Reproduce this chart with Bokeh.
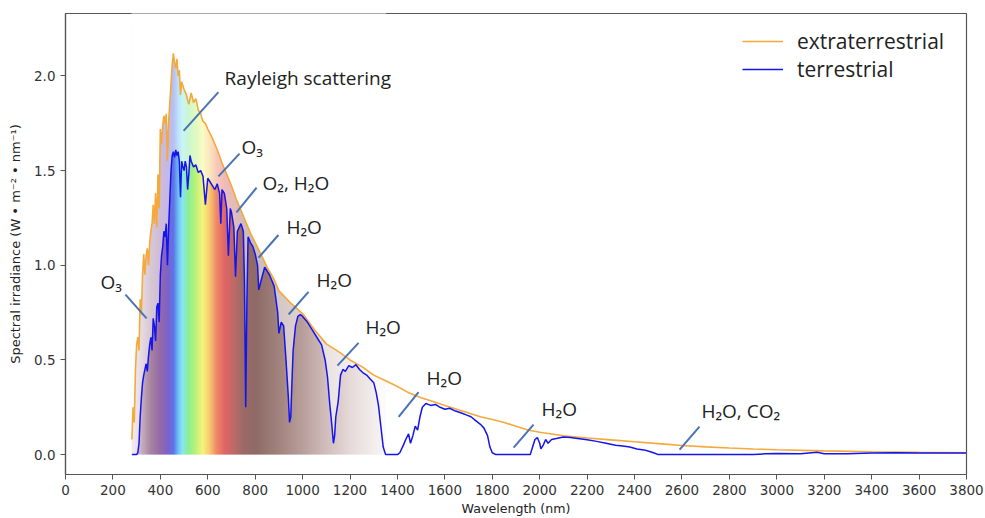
import numpy as np
from bokeh.plotting import figure
from bokeh.models import FixedTicker, PrintfTickFormatter, Range1d, ColumnDataSource
from bokeh.core.properties import value
from bokeh.embed import file_html
from bokeh.resources import INLINE

# ---------------- data ----------------
ext_wl = [280, 285, 290, 295, 300, 305, 310, 315, 320, 325, 330, 335, 340, 345, 350, 355,
          360, 365, 370, 375, 380, 385, 390, 395, 400, 405, 410, 415, 420, 425, 430, 435,
          440, 445, 450, 455, 460, 465, 470, 475, 480, 485, 490, 495, 500, 510, 520, 530,
          540, 550, 560, 570, 580, 590, 600, 620, 640, 660, 680, 700, 720, 740, 760, 780,
          800, 820, 850, 880, 900, 950, 1000, 1050, 1100, 1150, 1200, 1250, 1300, 1350,
          1400, 1450, 1500, 1550, 1600, 1650, 1700, 1750, 1800, 1850, 1900, 1950, 2000,
          2100, 2200, 2300, 2400, 2500, 2600, 2700, 2800, 2900, 3000, 3200, 3400, 3600, 3800]
ext_val = [0.08, 0.25, 0.17, 0.45, 0.58, 0.62, 0.55, 0.82, 0.74, 0.95, 1.06, 0.95, 1.05,
           1.09, 1.00, 1.12, 1.18, 1.22, 1.32, 1.22, 1.38, 1.20, 1.48, 1.30, 1.72, 1.64,
           1.74, 1.79, 1.75, 1.80, 1.55, 1.76, 1.86, 1.96, 2.06, 2.12, 2.07, 2.04, 2.09,
           2.00, 2.03, 1.90, 1.97, 1.95, 1.93, 1.90, 1.85, 1.91, 1.86, 1.88, 1.82, 1.80,
           1.76, 1.75, 1.72, 1.67, 1.61, 1.54, 1.48, 1.42, 1.35, 1.29, 1.23, 1.17, 1.12,
           1.07, 0.99, 0.925, 0.865, 0.80, 0.745, 0.66, 0.585, 0.545, 0.50, 0.465, 0.42,
           0.39, 0.36, 0.325, 0.30, 0.28, 0.26, 0.24, 0.22, 0.20, 0.185, 0.17, 0.15, 0.13,
           0.118, 0.10, 0.088, 0.078, 0.068, 0.058, 0.048, 0.041, 0.035, 0.030, 0.026,
           0.020, 0.015, 0.012, 0.010]

ter_wl = [280, 300, 305, 310, 315, 320, 325, 330, 335, 340, 345, 350, 355, 360, 365, 370,
          375, 380, 385, 390, 395, 400, 405, 410, 415, 420, 425, 430, 435, 440, 445, 450,
          455, 460, 465, 470, 475, 480, 485, 490, 495, 500, 505, 510, 515, 520, 525, 530,
          540, 550, 560, 570, 580, 590, 600, 610, 620, 630, 640, 650, 655, 660, 670, 680,
          687, 695, 700, 710, 717, 725, 740, 750, 755, 760, 765, 770, 780, 790, 800, 810,
          815, 825, 840, 860, 880, 895, 900, 910, 920, 930, 940, 945, 950, 955, 960, 970,
          980, 990, 1000, 1020, 1040, 1060, 1080, 1095, 1105, 1115, 1120, 1130, 1135, 1140,
          1150, 1160, 1170, 1180, 1195, 1210, 1225, 1240, 1257, 1270, 1285, 1300, 1310,
          1320, 1330, 1340, 1350, 1400, 1410, 1425, 1435, 1447, 1455, 1465, 1475, 1485,
          1495, 1505, 1520, 1540, 1560, 1580, 1600, 1620, 1645, 1670, 1690, 1710, 1730,
          1750, 1765, 1780, 1790, 1800, 1815, 1960, 1970, 1980, 1990, 2000, 2005, 2015,
          2025, 2035, 2050, 2070, 2100, 2130, 2160, 2200, 2240, 2280, 2320, 2350, 2380,
          2410, 2440, 2460, 2480, 2500, 2900, 2950, 3000, 3100, 3170, 3200, 3300, 3400,
          3500, 3600, 3700, 3800]
ter_val = [0.0, 0.0, 0.01, 0.06, 0.20, 0.30, 0.38, 0.42, 0.45, 0.48, 0.44, 0.52, 0.58,
           0.62, 0.55, 0.72, 0.68, 0.60, 0.78, 0.80, 0.70, 0.95, 1.05, 1.10, 1.18, 1.15,
           1.22, 1.00, 1.20, 1.35, 1.50, 1.58, 1.60, 1.57, 1.61, 1.58, 1.60, 1.55, 1.36,
           1.55, 1.52, 1.50, 1.55, 1.52, 1.40, 1.48, 1.58, 1.55, 1.52, 1.53, 1.49, 1.50,
           1.47, 1.32, 1.46, 1.44, 1.42, 1.40, 1.43, 1.38, 1.22, 1.40, 1.38, 1.30, 1.05,
           1.30, 1.28, 1.20, 0.94, 1.18, 1.22, 1.18, 0.90, 0.25, 0.80, 1.15, 1.12, 1.10,
           1.06, 1.00, 0.87, 0.92, 0.99, 0.95, 0.89, 0.75, 0.64, 0.70, 0.68, 0.50, 0.30,
           0.17, 0.20, 0.38, 0.55, 0.68, 0.73, 0.74, 0.73, 0.70, 0.66, 0.62, 0.58, 0.50,
           0.41, 0.26, 0.20, 0.06, 0.10, 0.20, 0.28, 0.42, 0.45, 0.44, 0.47, 0.46, 0.475,
           0.45, 0.43, 0.42, 0.40, 0.38, 0.33, 0.26, 0.15, 0.04, 0.0, 0.0, 0.01, 0.05,
           0.08, 0.11, 0.06, 0.10, 0.15, 0.13, 0.20, 0.25, 0.27, 0.26, 0.265, 0.25, 0.24,
           0.245, 0.23, 0.22, 0.21, 0.20, 0.18, 0.16, 0.14, 0.10, 0.04, 0.01, 0.0, 0.0,
           0.04, 0.08, 0.09, 0.06, 0.03, 0.05, 0.08, 0.06, 0.08, 0.085, 0.093, 0.09, 0.085,
           0.078, 0.07, 0.06, 0.05, 0.045, 0.04, 0.03, 0.025, 0.018, 0.01, 0.0, 0.0, 0.004,
           0.006, 0.005, 0.012, 0.005, 0.004, 0.008, 0.01, 0.008, 0.008, 0.008]

x_ticks = list(range(0, 3801, 200))
y_ticks = [0.0, 0.5, 1.0, 1.5, 2.0]

ann_text = ["Rayleigh scattering", "O\u2083", "O\u2082, H\u2082O", "H\u2082O", "H\u2082O",
            "H\u2082O", "H\u2082O", "H\u2082O", "H\u2082O, CO\u2082", "O\u2083"]
ann_x = [671, 742, 831, 932, 1059, 1265, 1523, 2008, 2682, 148]
ann_y = [1.99, 1.625, 1.435, 1.20, 0.92, 0.675, 0.405, 0.243, 0.232, 0.91]
lead_x0 = [498, 645, 721, 814, 941, 1147, 1405, 1890, 2590, 253]
lead_y0 = [1.71, 1.47, 1.28, 1.04, 0.74, 0.47, 0.20, 0.037, 0.026, 0.845]
lead_x1 = [645, 734, 806, 898, 1025, 1236, 1489, 1974, 2674, 342]
lead_y1 = [1.915, 1.59, 1.41, 1.16, 0.86, 0.59, 0.33, 0.158, 0.148, 0.72]

# ---------------- style: colour gradient of the visible spectrum ----------------
grad_stops = [280, 320, 360, 400, 430, 455, 475, 492, 520, 550, 578, 605, 635, 670, 705,
              745, 800, 900, 1000, 1100, 1200, 1300, 1350]
grad_cols = ["#e2d3de", "#c9b0c4", "#a7839f", "#9469a8", "#7f62c8", "#5d74ea", "#6cc4f4",
             "#8ae6f0", "#8ff08e", "#c0f27a", "#f6f47c", "#f8cc70", "#f08a68", "#e06666",
             "#c46a66", "#9c6a68", "#8f6b67", "#a3847f", "#baa09d", "#d2bfbd", "#e6dbda",
             "#f4eeee", "#fbf8f8"]

fill_x0, fill_x1, fill_top = 280, 1350, 2.3
y_lo, y_hi = -0.105, 2.33

p = figure(width=985, height=518, output_backend="svg", toolbar_location=None,
           x_range=Range1d(0, 3800), y_range=Range1d(y_lo, y_hi),
           min_border_left=65, min_border_right=19, min_border_top=13,
           min_border_bottom=43)
p.xgrid.visible = False
p.ygrid.visible = False
p.background_fill_color = "white"
p.border_fill_color = "white"
p.outline_line_color = "#555555"
p.outline_line_width = 1.2

# gradient image
ncol = fill_x1 - fill_x0
gx = np.linspace(fill_x0, fill_x1, ncol)
rgb = np.array([[int(c[i:i + 2], 16) for i in (1, 3, 5)] for c in grad_cols], dtype=float)
r = np.interp(gx, grad_stops, rgb[:, 0]).astype(np.uint32)
g = np.interp(gx, grad_stops, rgb[:, 1]).astype(np.uint32)
b = np.interp(gx, grad_stops, rgb[:, 2]).astype(np.uint32)
img = (255 << 24) | (b << 16) | (g << 8) | r
img = np.tile(img.astype(np.uint32), (2, 1))
p.image_rgba(image=[img], x=fill_x0, y=0, dw=fill_x1 - fill_x0, dh=fill_top)

# mask above the extraterrestrial curve
ew = np.array(ext_wl, dtype=float)
ev = np.array(ext_val, dtype=float)
tw = np.array(ter_wl, dtype=float)
tv = np.array(ter_val, dtype=float)
em = ew <= fill_x1
tm = tw <= fill_x1
mask_x = list(ew[em]) + [fill_x1 + 2, fill_x1 + 2, fill_x0 - 2, fill_x0 - 2]
mask_y = list(ev[em]) + [ev[em][-1], fill_top + 0.05, fill_top + 0.05, ev[em][0]]
p.patch(mask_x, mask_y, fill_color="white", line_color=None)

# lighter zone between the two curves
band_x = list(ew[em]) + list(tw[tm][::-1])
band_y = list(ev[em]) + list(tv[tm][::-1])
p.patch(band_x, band_y, fill_color="white", fill_alpha=0.55, line_color=None)

p.line(ext_wl, ext_val, line_color="#f4a93c", line_width=1.6, legend_label="extraterrestrial")
p.line(ter_wl, ter_val, line_color="#1414ee", line_width=1.5, legend_label="terrestrial")

p.segment(x0=lead_x0, y0=lead_y0, x1=lead_x1, y1=lead_y1, line_color="#4a72b4", line_width=2)
src = ColumnDataSource(dict(x=ann_x, y=ann_y, t=ann_text))
p.text(x="x", y="y", text="t", source=src, text_font=value("Open Sans"),
       text_font_size=value("19px"), text_color="#222222", text_align="left",
       text_baseline="middle")

# axes
for ax in (p.xaxis[0], p.yaxis[0]):
    ax.axis_line_color = "#555555"
    ax.axis_line_width = 1.2
    ax.major_tick_line_color = "#555555"
    ax.major_tick_out = 5
    ax.major_tick_in = 0
    ax.minor_tick_line_color = None
    ax.major_label_text_font = "DejaVu Sans"
    ax.major_label_text_font_size = "13.5px"
    ax.major_label_text_color = "#333333"
    ax.axis_label_text_font = "DejaVu Sans"
    ax.axis_label_text_font_size = "12.6px"
    ax.axis_label_text_font_style = "normal"
    ax.axis_label_text_color = "#222222"

p.xaxis.ticker = FixedTicker(ticks=x_ticks)
p.xaxis.formatter = PrintfTickFormatter(format="%d")
p.yaxis.ticker = FixedTicker(ticks=y_ticks)
p.yaxis.formatter = PrintfTickFormatter(format="%.1f")
p.xaxis.axis_label = "Wavelength (nm)"
p.yaxis.axis_label = "Spectral irradiance (W \u2022 m\u207b\u00b2 \u2022 nm\u207b\u00b9)"
p.yaxis[0].axis_label_text_font_size = "13px"
p.xaxis.axis_label_standoff = 3
p.yaxis.axis_label_standoff = 8

lg = p.legend[0]
lg.location = (673, 387)
lg.border_line_alpha = 0
lg.background_fill_alpha = 0
lg.label_text_font = "Open Sans"
lg.label_text_font_size = "21px"
lg.label_text_color = "#222222"
lg.glyph_width = 41
lg.glyph_height = 24
lg.label_height = 24
lg.label_standoff = 14
lg.spacing = 0
lg.margin = 0
lg.padding = 4

open("out.html", "w").write(file_html(p, INLINE))
